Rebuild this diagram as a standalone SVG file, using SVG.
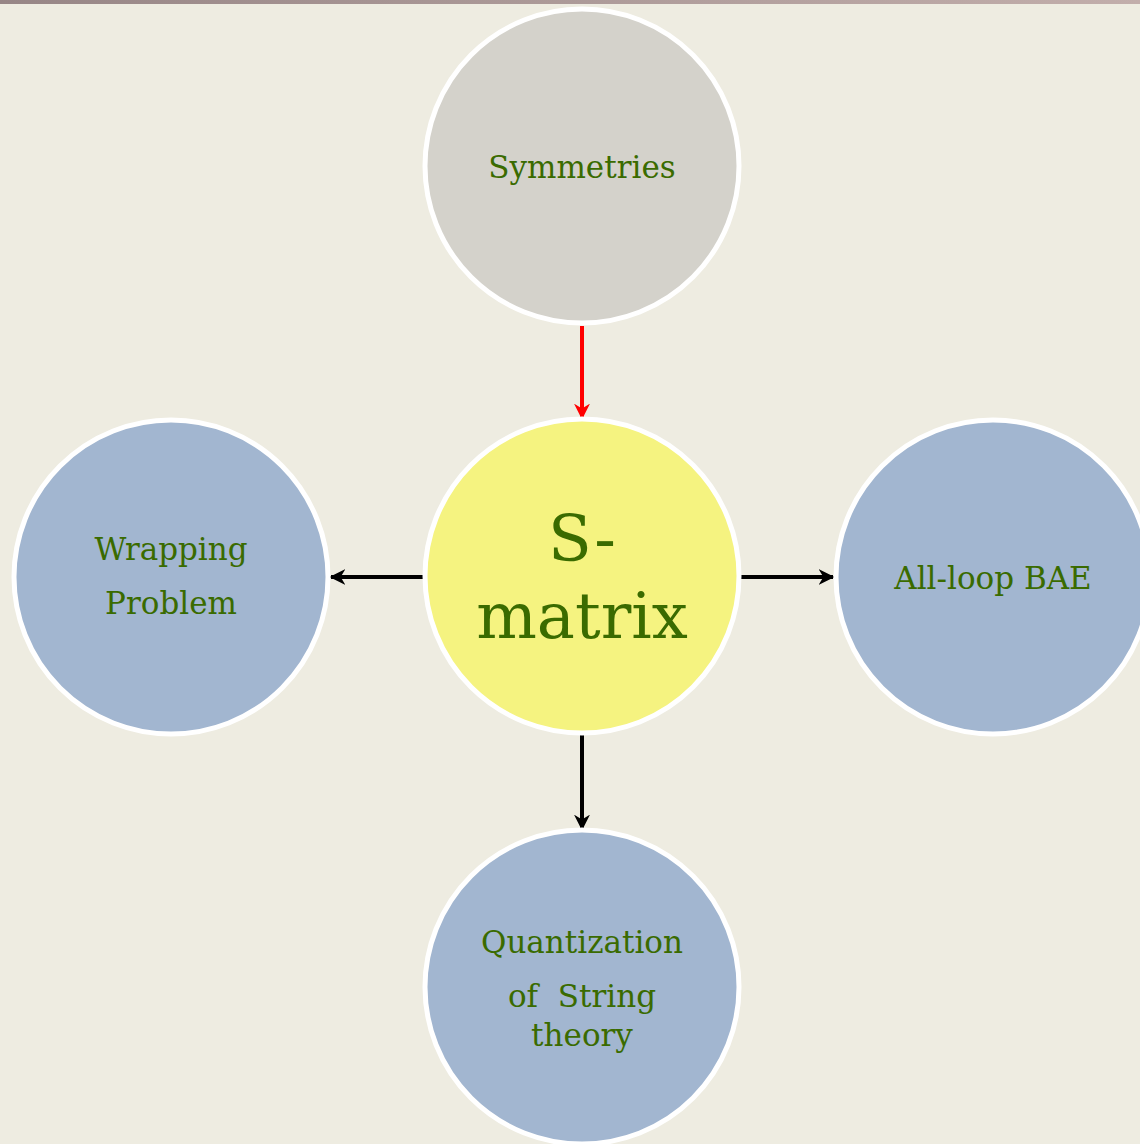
<svg xmlns="http://www.w3.org/2000/svg" width="1140" height="1144" viewBox="0 0 1140 1144">
<defs>
<linearGradient id="bar" x1="0" y1="0" x2="1" y2="0">
<stop offset="0" stop-color="#978686"/>
<stop offset="1" stop-color="#c2aeab"/>
</linearGradient>
<marker id="ahb" viewBox="0 0 10 10" refX="9" refY="5" markerWidth="4" markerHeight="4" orient="auto" markerUnits="strokeWidth">
<path d="M0,0 L10,5 L0,10 L3,5 Z" fill="#000"/>
</marker>
<marker id="ahr" viewBox="0 0 10 10" refX="9" refY="5" markerWidth="4" markerHeight="4" orient="auto" markerUnits="strokeWidth">
<path d="M0,0 L10,5 L0,10 L3,5 Z" fill="#ff0000"/>
</marker>
</defs>
<style>
.c{stroke:#fff;stroke-width:5}
.t{font-family:"DejaVu Serif","Liberation Serif",serif;fill:#3a6b00;text-anchor:middle;font-size:31px;white-space:pre}
.big{font-size:64px}
.blue{fill:#a2b6d0}
</style>
<rect width="1140" height="1144" fill="#eeece1"/>
<rect width="1140" height="4" fill="url(#bar)"/>
<g id="connectors">
<line x1="582" y1="326" x2="582" y2="418" stroke="#ff0000" stroke-width="4" marker-end="url(#ahr)"/>
<line x1="424" y1="577" x2="331" y2="577" stroke="#000" stroke-width="4" marker-end="url(#ahb)"/>
<line x1="741" y1="577" x2="833" y2="577" stroke="#000" stroke-width="4" marker-end="url(#ahb)"/>
<line x1="582" y1="735" x2="582" y2="829" stroke="#000" stroke-width="4" marker-end="url(#ahb)"/>
</g>
<g id="symmetries">
<circle class="c" cx="582" cy="166" r="157" fill="#d4d2cb"/>
<text class="t" x="582" y="178">Symmetries</text>
</g>
<g id="smatrix">
<circle class="c" cx="582" cy="576" r="157" fill="#f5f380"/>
<text class="t big" x="582" y="561">S-</text>
<text class="t big" x="582" y="638">matrix</text>
</g>
<g id="wrapping">
<circle class="c blue" cx="171" cy="577" r="157"/>
<text class="t" x="171" y="560">Wrapping</text>
<text class="t" x="171" y="614">Problem</text>
</g>
<g id="bae">
<circle class="c blue" cx="993" cy="577" r="157"/>
<text class="t" x="993" y="589">All-loop BAE</text>
</g>
<g id="quantization">
<circle class="c blue" cx="582" cy="987" r="157"/>
<text class="t" x="582" y="953">Quantization</text>
<text class="t" x="582" y="1007" xml:space="preserve">of  String</text>
<text class="t" x="582" y="1046">theory</text>
</g>
</svg>
